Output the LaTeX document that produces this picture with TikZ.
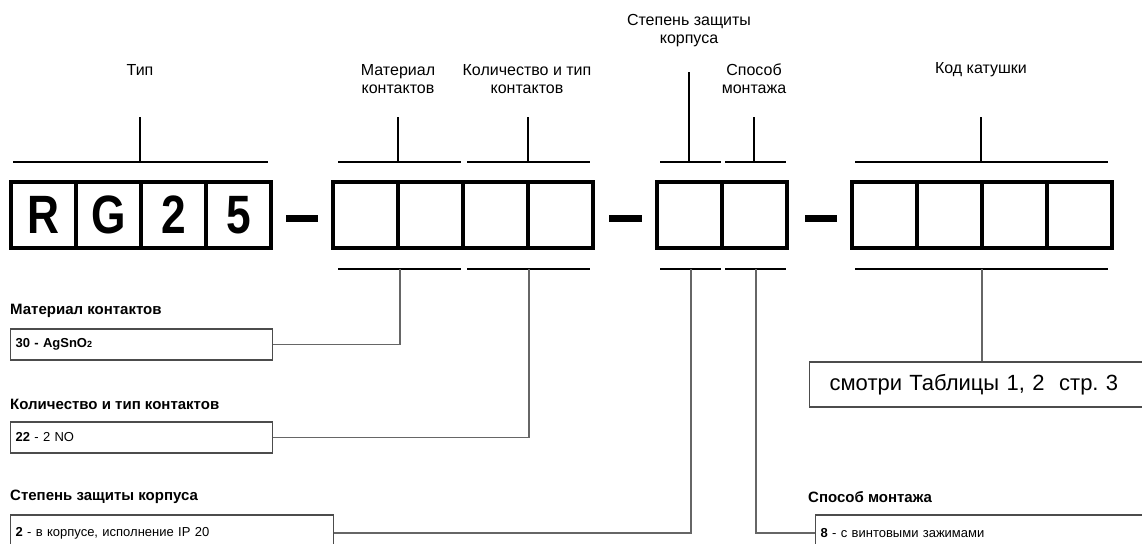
\documentclass[tikz,border=0pt]{standalone}
\usepackage{fontspec}
\setmainfont{Liberation Sans}
\frenchspacing
\newcommand{\cellglyph}[1]{\scalebox{0.82}[1]{#1}}
\begin{document}
\begin{tikzpicture}[x=1pt,y=-1pt,
  cell/.style={draw,line width=3.5pt,minimum width=65pt,minimum height=66pt,inner sep=0pt,font=\fontsize{54}{54}\selectfont\bfseries},
  brk/.style={line width=2pt},
  conn/.style={draw=black!60,line width=1.5pt},
  lbl/.style={font=\fontsize{16}{18}\selectfont,align=center,inner sep=0pt},
  head/.style={font=\fontsize{15}{17}\selectfont\bfseries,anchor=west,inner sep=0pt},
  info/.style={draw=black!70,line width=1.2pt,anchor=west,align=left,font=\fontsize{13}{15}\selectfont,inner xsep=5pt,inner ysep=0pt},
  dashbar/.style={line width=7pt}
]
\clip (0,0) rectangle (1142,543);
\fill[white] (0,0) rectangle (1142,543);

% top labels
\node[lbl] (lTyp) at (140,70) {Тип};
\node[lbl] (lMat) at (398,79) {Материал\\контактов};
\node[lbl] (lQty) at (527,79) {Количество и тип\\контактов};
\node[lbl] (lProt) at (689,31) {Степень защиты\\корпуса};
\node[lbl] (lMont) at (754,79) {Способ\\монтажа};
\node[lbl] (lCoil) at (981,70) {Код катушки};

% cells group 1
\node[cell] (g1a) at (43.5,215) {\cellglyph{R}};
\node[cell] (g1b) at (108.5,215) {\cellglyph{G}};
\node[cell] (g1c) at (173.5,215) {\cellglyph{2}};
\node[cell] (g1d) at (238.5,215) {\cellglyph{5}};
% group 2
\node[cell] (g2a) at (365.5,215) {};
\node[cell] (g2b) at (430.5,215) {};
\node[cell] (g2c) at (495.5,215) {};
\node[cell] (g2d) at (560.5,215) {};
% group 3
\node[cell] (g3a) at (689.5,215) {};
\node[cell] (g3b) at (754.5,215) {};
% group 4
\node[cell] (g4a) at (884.5,215) {};
\node[cell] (g4b) at (949.5,215) {};
\node[cell] (g4c) at (1014.5,215) {};
\node[cell] (g4d) at (1079.5,215) {};

% dashes
\draw[dashbar] (286,218) -- (318,218);
\draw[dashbar] (609,218) -- (642,218);
\draw[dashbar] (805,218) -- (837,218);

% top brackets
\draw[brk] (13,162) -- (268,162);
\draw[brk] (140,117) -- (140,162);
\draw[brk] (338,162) -- (461,162);
\draw[brk] (398,117) -- (398,162);
\draw[brk] (467,162) -- (590,162);
\draw[brk] (528,117) -- (528,162);
\draw[brk] (660,162) -- (721,162);
\draw[brk] (689,72) -- (689,162);
\draw[brk] (725,162) -- (786,162);
\draw[brk] (754,117) -- (754,162);
\draw[brk] (855,162) -- (1108,162);
\draw[brk] (981,117) -- (981,162);

% bottom brackets
\draw[brk] (338,269) -- (461,269);
\draw[brk] (467,269) -- (590,269);
\draw[brk] (660,269) -- (721,269);
\draw[brk] (725,269) -- (786,269);
\draw[brk] (855,269) -- (1108,269);
\coordinate (bMat) at (400,269);
\coordinate (bQty) at (529,269);
\coordinate (bProt) at (691,269);
\coordinate (bMont) at (756,269);
\coordinate (bCoil) at (982,269);

% headings and info boxes
\node[head] (hMat) at (10,311) {Материал контактов};
\node[info,text width=252pt,minimum height=31pt] (iMat) at (10,344.5) {\textbf{30 - AgSnO{\fontsize{9}{9}\selectfont 2}}};
\node[head] (hQty) at (10,404) {Количество и тип контактов};
\node[info,text width=252pt,minimum height=31pt] (iQty) at (10,437.5) {\textbf{22} - 2 NO};
\node[head] (hProt) at (10,497) {Степень защиты корпуса};
\node[info,text width=313pt,minimum height=36pt] (iProt) at (10,533) {\textbf{2} - в корпусе, исполнение IP 20};
\node[head] (hMont) at (808,497) {Способ монтажа};
\node[info,text width=330pt,minimum height=36pt] (iMont) at (815,533) {\textbf{8} - с винтовыми зажимами};
\node[info,text width=300pt,inner xsep=20pt,minimum height=45pt,font=\fontsize{22}{24}\selectfont] (iCoil) at (809,384.5) {смотри Таблицы 1, 2\ \ стр. 3};

% connectors
\draw[conn] (bMat) |- (iMat.east);
\draw[conn] (bQty) |- (iQty.east);
\draw[conn] (bProt) |- (iProt.east);
\draw[conn] (bMont) |- (iMont.west);
\draw[conn] (bCoil) -- (iCoil.north -| bCoil);
\end{tikzpicture}
\end{document}
